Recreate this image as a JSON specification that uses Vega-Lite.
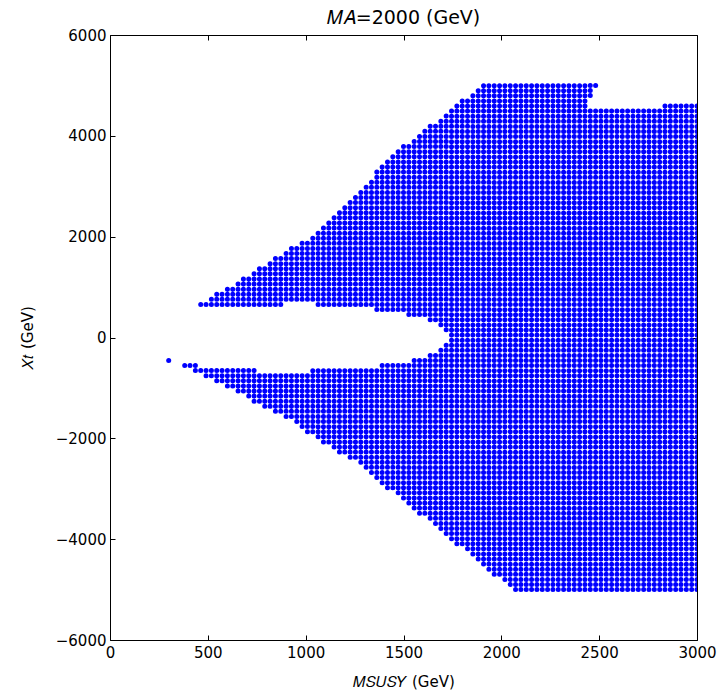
{
  "$schema": "https://vega.github.io/schema/vega-lite/v6.json",
  "width": 587,
  "height": 605,
  "autosize": {"type": "none"},
  "padding": {"left": 110, "top": 35, "right": 23, "bottom": 52},
  "background": "white",
  "title": {"text": "𝑀𝐴=2000 (GeV)", "font": "DejaVu Sans", "fontSize": 19, "fontWeight": "normal", "color": "black", "offset": 0},
  "config": {
    "view": {"stroke": "black", "strokeWidth": 1},
    "axis": {
      "domain": false, "grid": false, "ticks": true, "tickColor": "black", "tickWidth": 1, "tickSize": -5,
      "labelFont": "DejaVu Sans", "labelFontSize": 15, "labelColor": "black", "labelFlush": false, "labelOverlap": false,
      "titleFont": "DejaVu Sans", "titleFontSize": 15, "titleFontWeight": "normal", "titleColor": "black"
    }
  },
  "data": {"values": [
    {"m": 300, "lo": -454.55, "hi": -454.55},
    {"m": 381.82, "lo": -555.56, "hi": -555.56},
    {"m": 409.09, "lo": -555.56, "hi": -555.56},
    {"m": 436.36, "lo": -656.57, "hi": -555.56},
    {"m": 463.64, "lo": -656.57, "hi": -656.57}, {"m": 463.64, "lo": 656.57, "hi": 656.57},
    {"m": 490.91, "lo": -757.58, "hi": -656.57}, {"m": 490.91, "lo": 656.57, "hi": 656.57},
    {"m": 518.18, "lo": -757.58, "hi": -656.57}, {"m": 518.18, "lo": 656.57, "hi": 757.58},
    {"m": 545.45, "lo": -858.59, "hi": -656.57}, {"m": 545.45, "lo": 656.57, "hi": 858.59},
    {"m": 572.73, "lo": -858.59, "hi": -656.57}, {"m": 572.73, "lo": 656.57, "hi": 858.59},
    {"m": 600, "lo": -959.6, "hi": -656.57}, {"m": 600, "lo": 656.57, "hi": 959.6},
    {"m": 627.27, "lo": -959.6, "hi": -656.57}, {"m": 627.27, "lo": 656.57, "hi": 959.6},
    {"m": 654.55, "lo": -1060.61, "hi": -656.57}, {"m": 654.55, "lo": 656.57, "hi": 1060.61},
    {"m": 681.82, "lo": -1060.61, "hi": -656.57}, {"m": 681.82, "lo": 656.57, "hi": 1161.62},
    {"m": 709.09, "lo": -1161.62, "hi": -656.57}, {"m": 709.09, "lo": 656.57, "hi": 1161.62},
    {"m": 736.36, "lo": -1262.63, "hi": -656.57}, {"m": 736.36, "lo": 656.57, "hi": 1262.63},
    {"m": 763.64, "lo": -1262.63, "hi": -757.58}, {"m": 763.64, "lo": 656.57, "hi": 1363.64},
    {"m": 790.91, "lo": -1363.64, "hi": -757.58}, {"m": 790.91, "lo": 656.57, "hi": 1363.64},
    {"m": 818.18, "lo": -1363.64, "hi": -757.58}, {"m": 818.18, "lo": 656.57, "hi": 1464.65},
    {"m": 845.45, "lo": -1464.65, "hi": -757.58}, {"m": 845.45, "lo": 656.57, "hi": 1565.66},
    {"m": 872.73, "lo": -1464.65, "hi": -757.58}, {"m": 872.73, "lo": 656.57, "hi": 1565.66},
    {"m": 900, "lo": -1565.66, "hi": -757.58}, {"m": 900, "lo": 757.58, "hi": 1666.67},
    {"m": 927.27, "lo": -1565.66, "hi": -757.58}, {"m": 927.27, "lo": 757.58, "hi": 1767.68},
    {"m": 954.55, "lo": -1666.67, "hi": -757.58}, {"m": 954.55, "lo": 757.58, "hi": 1767.68},
    {"m": 981.82, "lo": -1767.68, "hi": -757.58}, {"m": 981.82, "lo": 757.58, "hi": 1868.69},
    {"m": 1009.09, "lo": -1868.69, "hi": -757.58}, {"m": 1009.09, "lo": 757.58, "hi": 1868.69},
    {"m": 1036.36, "lo": -1868.69, "hi": -656.57}, {"m": 1036.36, "lo": 757.58, "hi": 1969.7},
    {"m": 1063.64, "lo": -1969.7, "hi": -656.57}, {"m": 1063.64, "lo": 656.57, "hi": 2070.71},
    {"m": 1090.91, "lo": -2070.71, "hi": -656.57}, {"m": 1090.91, "lo": 656.57, "hi": 2171.72},
    {"m": 1118.18, "lo": -2070.71, "hi": -656.57}, {"m": 1118.18, "lo": 656.57, "hi": 2272.73},
    {"m": 1145.45, "lo": -2171.72, "hi": -656.57}, {"m": 1145.45, "lo": 656.57, "hi": 2373.74},
    {"m": 1172.73, "lo": -2272.73, "hi": -656.57}, {"m": 1172.73, "lo": 656.57, "hi": 2474.75},
    {"m": 1200, "lo": -2272.73, "hi": -656.57}, {"m": 1200, "lo": 656.57, "hi": 2575.76},
    {"m": 1227.27, "lo": -2373.74, "hi": -656.57}, {"m": 1227.27, "lo": 656.57, "hi": 2676.77},
    {"m": 1254.55, "lo": -2373.74, "hi": -656.57}, {"m": 1254.55, "lo": 656.57, "hi": 2777.78},
    {"m": 1281.82, "lo": -2474.75, "hi": -656.57}, {"m": 1281.82, "lo": 656.57, "hi": 2878.79},
    {"m": 1309.09, "lo": -2575.76, "hi": -656.57}, {"m": 1309.09, "lo": 656.57, "hi": 2979.8},
    {"m": 1336.36, "lo": -2676.77, "hi": -656.57}, {"m": 1336.36, "lo": 656.57, "hi": 3080.81},
    {"m": 1363.64, "lo": -2777.78, "hi": -656.57}, {"m": 1363.64, "lo": 555.56, "hi": 3282.83},
    {"m": 1390.91, "lo": -2878.79, "hi": -555.56}, {"m": 1390.91, "lo": 555.56, "hi": 3383.84},
    {"m": 1418.18, "lo": -2979.8, "hi": -555.56}, {"m": 1418.18, "lo": 555.56, "hi": 3484.85},
    {"m": 1445.45, "lo": -2979.8, "hi": -555.56}, {"m": 1445.45, "lo": 555.56, "hi": 3585.86},
    {"m": 1472.73, "lo": -3080.81, "hi": -555.56}, {"m": 1472.73, "lo": 555.56, "hi": 3686.87},
    {"m": 1500, "lo": -3181.82, "hi": -555.56}, {"m": 1500, "lo": 555.56, "hi": 3787.88},
    {"m": 1527.27, "lo": -3282.83, "hi": -555.56}, {"m": 1527.27, "lo": 454.55, "hi": 3787.88},
    {"m": 1554.55, "lo": -3383.84, "hi": -454.55}, {"m": 1554.55, "lo": 454.55, "hi": 3888.89},
    {"m": 1581.82, "lo": -3484.85, "hi": -454.55}, {"m": 1581.82, "lo": 454.55, "hi": 3989.9},
    {"m": 1609.09, "lo": -3484.85, "hi": -454.55}, {"m": 1609.09, "lo": 454.55, "hi": 4090.91},
    {"m": 1636.36, "lo": -3585.86, "hi": -353.54}, {"m": 1636.36, "lo": 353.54, "hi": 4191.92},
    {"m": 1663.64, "lo": -3686.87, "hi": -353.54}, {"m": 1663.64, "lo": 353.54, "hi": 4191.92},
    {"m": 1690.91, "lo": -3787.88, "hi": -252.53}, {"m": 1690.91, "lo": 252.53, "hi": 4292.93},
    {"m": 1718.18, "lo": -3888.89, "hi": -151.52}, {"m": 1718.18, "lo": 151.52, "hi": 4393.94},
    {"m": 1745.45, "lo": -3989.9, "hi": 4494.95},
    {"m": 1772.73, "lo": -4090.91, "hi": 4595.96},
    {"m": 1800, "lo": -4090.91, "hi": 4696.97},
    {"m": 1827.27, "lo": -4191.92, "hi": 4696.97},
    {"m": 1854.55, "lo": -4292.93, "hi": 4797.98},
    {"m": 1881.82, "lo": -4393.94, "hi": 4898.99},
    {"m": 1909.09, "lo": -4494.95, "hi": 5000},
    {"m": 1936.36, "lo": -4595.96, "hi": 5000},
    {"m": 1963.64, "lo": -4696.97, "hi": 5000},
    {"m": 1990.91, "lo": -4696.97, "hi": 5000},
    {"m": 2018.18, "lo": -4797.98, "hi": 5000},
    {"m": 2045.45, "lo": -4898.99, "hi": 5000},
    {"m": 2072.73, "lo": -5000, "hi": 5000},
    {"m": 2100, "lo": -5000, "hi": 5000},
    {"m": 2127.27, "lo": -5000, "hi": 5000},
    {"m": 2154.55, "lo": -5000, "hi": 5000},
    {"m": 2181.82, "lo": -5000, "hi": 5000},
    {"m": 2209.09, "lo": -5000, "hi": 5000},
    {"m": 2236.36, "lo": -5000, "hi": 5000},
    {"m": 2263.64, "lo": -5000, "hi": 5000},
    {"m": 2290.91, "lo": -5000, "hi": 5000},
    {"m": 2318.18, "lo": -5000, "hi": 5000},
    {"m": 2345.45, "lo": -5000, "hi": 5000},
    {"m": 2372.73, "lo": -5000, "hi": 5000},
    {"m": 2400, "lo": -5000, "hi": 5000},
    {"m": 2427.27, "lo": -5000, "hi": 5000},
    {"m": 2454.55, "lo": -5000, "hi": 4494.95}, {"m": 2454.55, "lo": 4797.98, "hi": 5000},
    {"m": 2481.82, "lo": -5000, "hi": 4494.95}, {"m": 2481.82, "lo": 5000, "hi": 5000},
    {"m": 2509.09, "lo": -5000, "hi": 4494.95},
    {"m": 2536.36, "lo": -5000, "hi": 4494.95},
    {"m": 2563.64, "lo": -5000, "hi": 4494.95},
    {"m": 2590.91, "lo": -5000, "hi": 4494.95},
    {"m": 2618.18, "lo": -5000, "hi": 4494.95},
    {"m": 2645.45, "lo": -5000, "hi": 4494.95},
    {"m": 2672.73, "lo": -5000, "hi": 4494.95},
    {"m": 2700, "lo": -5000, "hi": 4494.95},
    {"m": 2727.27, "lo": -5000, "hi": 4494.95},
    {"m": 2754.55, "lo": -5000, "hi": 4494.95},
    {"m": 2781.82, "lo": -5000, "hi": 4494.95},
    {"m": 2809.09, "lo": -5000, "hi": 4494.95},
    {"m": 2836.36, "lo": -5000, "hi": 4595.96},
    {"m": 2863.64, "lo": -5000, "hi": 4595.96},
    {"m": 2890.91, "lo": -5000, "hi": 4595.96},
    {"m": 2918.18, "lo": -5000, "hi": 4595.96},
    {"m": 2945.45, "lo": -5000, "hi": 4595.96},
    {"m": 2972.73, "lo": -5000, "hi": 4595.96},
    {"m": 3000, "lo": -5000, "hi": 4595.96}
  ]},
  "layer": [
    {
      "mark": {"type": "rule", "color": "#0000ff", "strokeWidth": 5, "strokeCap": "round", "strokeDash": [0, 5.09], "clip": true},
      "encoding": {
        "x": {"field": "m", "type": "quantitative", "scale": {"domain": [0, 3000], "nice": false, "zero": false},
              "axis": {"orient": "bottom", "values": [0, 500, 1000, 1500, 2000, 2500, 3000], "format": "d", "labelPadding": 10, "title": "𝑀𝑆𝑈𝑆𝑌 (GeV)", "titlePadding": 14}},
        "y": {"field": "lo", "type": "quantitative", "scale": {"domain": [-6000, 6000], "nice": false, "zero": false},
              "axis": {"orient": "left", "values": [-6000, -4000, -2000, 0, 2000, 4000, 6000], "format": "d", "labelPadding": 9, "title": "𝑋𝑡 (GeV)", "titlePadding": 20}},
        "y2": {"field": "hi"}
      }
    },
    {
      "mark": {"type": "rule", "opacity": 0},
      "encoding": {
        "x": {"field": "m", "type": "quantitative", "axis": {"orient": "top", "values": [0, 500, 1000, 1500, 2000, 2500, 3000], "labels": false, "title": null}},
        "y": {"field": "lo", "type": "quantitative", "axis": {"orient": "right", "values": [-6000, -4000, -2000, 0, 2000, 4000, 6000], "labels": false, "title": null}},
        "y2": {"field": "hi"}
      }
    }
  ],
  "resolve": {"axis": {"x": "independent", "y": "independent"}}
}
